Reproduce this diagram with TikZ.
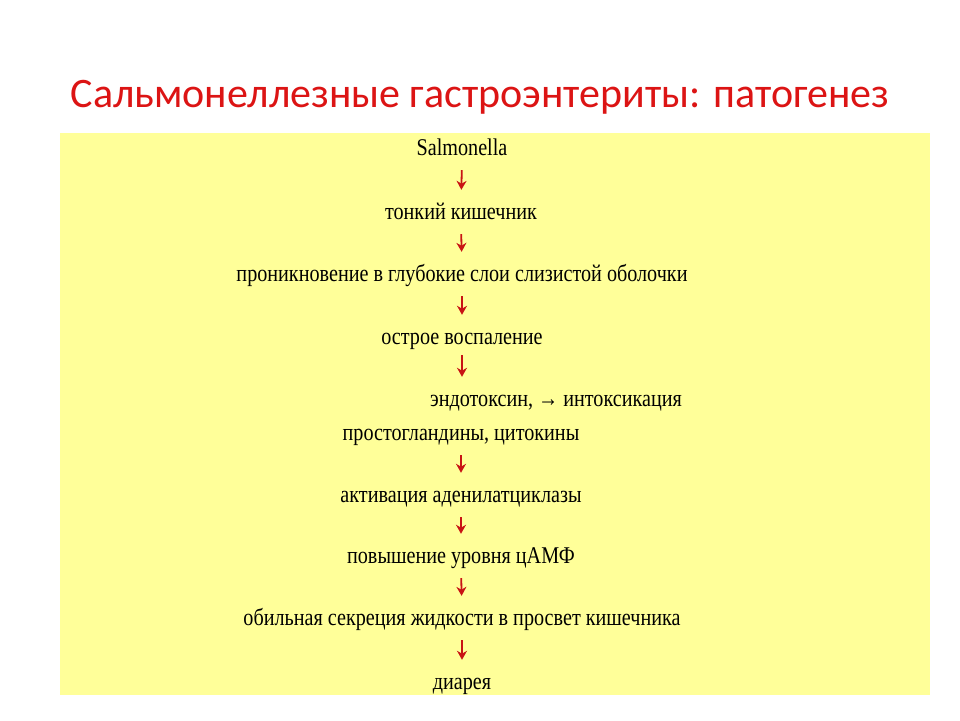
\documentclass[tikz,border=0pt]{standalone}
\usepackage{fontspec}
\setmainfont{Liberation Serif}[FakeStretch=0.84]
\newfontfamily\titlefont{Carlito}
\definecolor{bgyel}{RGB}{255,255,153}
\definecolor{ttlred}{RGB}{220,20,20}
\definecolor{arrred}{RGB}{200,20,20}
\usetikzlibrary{arrows.meta}
\begin{document}
\begin{tikzpicture}[x=1pt,y=-1pt,
  txt/.style={inner sep=0pt,font=\fontsize{24}{26}\selectfont,text height=14pt,text depth=6pt},
  arr/.style={draw=arrred,line width=1.8pt,-{Stealth[length=9pt,width=10pt]},shorten <=9pt,shorten >=15pt}]
\useasboundingbox (0,0) rectangle (960,720);
\fill[white] (0,0) rectangle (960,720);
\fill[bgyel] (60,133) rectangle (930,695);
\node[font=\titlefont\fontsize{42}{46}\selectfont,text=ttlred] (title) at (480,97) {Сальмонеллезные гастроэнтериты: патогенез};
\node[txt] (n1) at (462,151) {Salmonella};
\node[txt] (n2) at (461,215) {тонкий кишечник};
\node[txt] (n3) at (462,277) {проникновение в глубокие слои слизистой оболочки};
\node[txt] (n4) at (462,340) {острое воспаление};
\node[txt] (n5) at (556,402) {эндотоксин, → интоксикация};
\node[txt] (n6) at (461,436) {простогландины, цитокины};
\node[txt] (n7) at (461,498) {активация аденилатциклазы};
\node[txt] (n8) at (461,559) {повышение уровня цАМФ};
\node[txt] (n9) at (462,621) {обильная секреция жидкости в просвет кишечника};
\node[txt] (n10) at (462,685) {диарея};
\draw[arr] (n1.south) -- (n2.north);
\draw[arr] (n2.south) -- (n3.north);
\draw[arr] (n3.south) -- (n4.north);
\draw[arr,shorten <=5pt] (n4.south) -- (n4.south |- n5.north);
\draw[arr] (n6.south) -- (n7.north);
\draw[arr] (n7.south) -- (n8.north);
\draw[arr] (n8.south) -- (n9.north);
\draw[arr] (n9.south) -- (n10.north);
\end{tikzpicture}
\end{document}
